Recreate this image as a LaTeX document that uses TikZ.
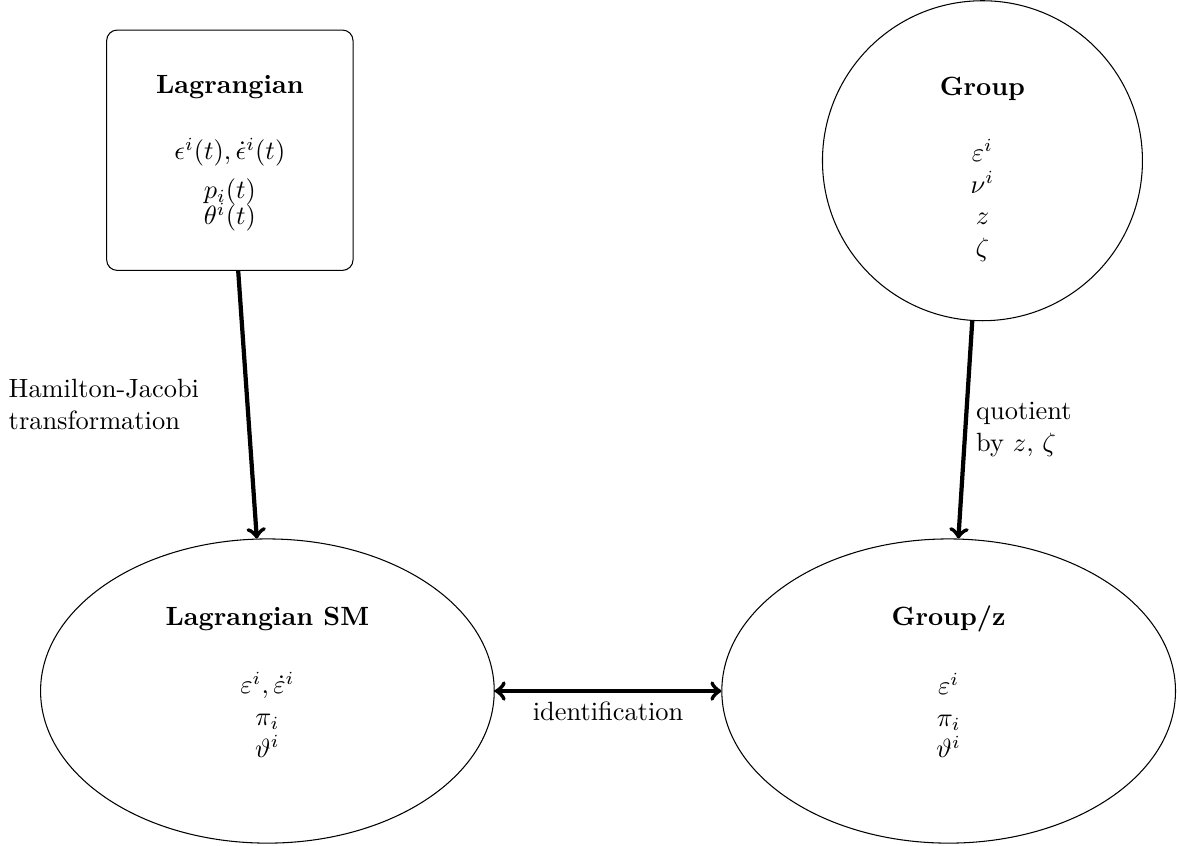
\documentclass[tikz,border=0pt]{standalone}
\usetikzlibrary{shapes.geometric}

\begin{document}
\begin{tikzpicture}[
				box/.style={draw, rectangle, rounded corners, minimum width=3.28cm, minimum height=3.2cm, align=center, text depth=-0.4pt},
				round/.style={draw, circle, minimum size=4.26cm, align=center, text height=72.5pt, text depth=0pt},
				oval/.style={draw, ellipse, minimum width=6.04cm, minimum height=4.05cm, align=center, text depth=6.8pt},
				link/.style={ultra thick}
				]
				
				\useasboundingbox (0,0) rectangle (15.67,11.25);
				
				\node[box] (lag) at (3.06,9.25) {\textbf{Lagrangian}\\[13pt]
					$\epsilon^i(t),\dot\epsilon^i(t)$\\[2.5pt] $p_i(t)$\\[-2pt] $\theta^i(t)$};
				\node[round] (grp) at (13.08,9.11) {\textbf{Group}\\[13pt]
					$\varepsilon^i$\\ $\nu^i$\\ $z$\\ $\zeta$};
				\node[oval] (lagsm) at (3.56,2.05) {\textbf{Lagrangian SM}\\[14pt]
					$\varepsilon^i,\dot\varepsilon^i$\\ $\pi_i$\\ $\vartheta^i$};
				\node[oval] (grpz) at (12.63,2.05) {\textbf{Group/z}\\[14pt]
					$\varepsilon^i$\\ $\pi_i$\\ $\vartheta^i$};
				
				\draw[link, ->] (lag) -- node[midway, left=0.5cm, align=left] {Hamilton-Jacobi\\transformation} (lagsm);
				\draw[link, ->] (grp) -- node[midway, right, align=left] {quotient\\by $z$, $\zeta$} (grpz);
				\draw[link, <->] (lagsm) -- node[midway, below] {identification} (grpz);
				
			\end{tikzpicture}
\end{document}
